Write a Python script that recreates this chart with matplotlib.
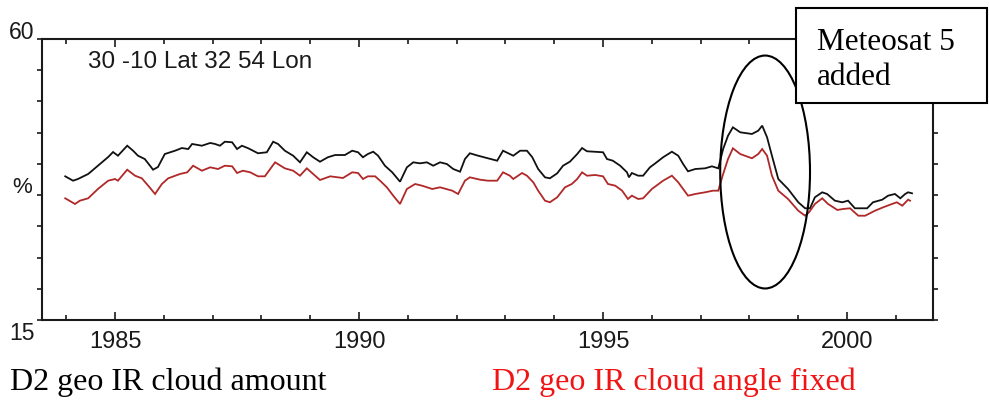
import matplotlib
matplotlib.use("Agg")
import matplotlib.pyplot as plt
from matplotlib.patches import Ellipse, Rectangle
from matplotlib.ticker import MultipleLocator, FixedLocator

# D2 geostationary IR cloud amount (%), 30S-10N / 32E-54E box
black_years = [1983.98, 1984.14, 1984.24, 1984.45, 1984.65, 1984.86, 1984.96, 1985.06,
               1985.25, 1985.37, 1985.47, 1985.61, 1985.78, 1985.88, 1986.02, 1986.23,
               1986.37, 1986.50, 1986.58, 1986.78, 1986.95, 1987.05, 1987.15, 1987.25,
               1987.40, 1987.50, 1987.60, 1987.73, 1987.93, 1988.11, 1988.24, 1988.34,
               1988.48, 1988.65, 1988.79, 1988.93, 1989.06, 1989.20, 1989.36, 1989.51,
               1989.71, 1989.86, 1989.98, 1990.08, 1990.18, 1990.29, 1990.39, 1990.53,
               1990.68, 1990.84, 1990.98, 1991.11, 1991.25, 1991.39, 1991.52, 1991.66,
               1991.80, 1991.93, 1992.07, 1992.17, 1992.27, 1992.44, 1992.64, 1992.83,
               1992.95, 1993.09, 1993.16, 1993.30, 1993.44, 1993.55, 1993.67, 1993.81,
               1993.91, 1994.06, 1994.18, 1994.32, 1994.47, 1994.57, 1994.67, 1994.80,
               1995.00, 1995.08, 1995.20, 1995.35, 1995.49, 1995.53, 1995.59, 1995.72,
               1995.82, 1995.96, 1996.07, 1996.23, 1996.41, 1996.54, 1996.64, 1996.74,
               1996.89, 1997.09, 1997.23, 1997.36, 1997.46, 1997.56, 1997.66, 1997.81,
               1998.05, 1998.18, 1998.26, 1998.36, 1998.46, 1998.59, 1998.79, 1999.00,
               1999.14, 1999.24, 1999.34, 1999.49, 1999.59, 1999.75, 1999.90, 2000.02,
               2000.16, 2000.41, 2000.53, 2000.72, 2000.84, 2000.98, 2001.09, 2001.19,
               2001.25, 2001.33]
black_vals = [38.01, 37.31, 37.58, 38.38, 39.71, 41.10, 41.90, 41.31,
              42.91, 42.11, 41.31, 40.78, 39.07, 39.50, 41.58, 42.11,
              42.54, 42.38, 43.19, 42.91, 43.35, 43.19, 42.91, 43.55,
              43.46, 42.38, 42.91, 42.50, 41.70, 41.86, 43.55, 43.19,
              42.11, 41.31, 40.25, 41.86, 41.06, 40.35, 41.06, 41.42,
              41.42, 42.11, 41.86, 41.06, 41.58, 41.95, 41.31, 39.71,
              38.65, 37.15, 39.45, 40.25, 40.09, 40.25, 39.71, 40.25,
              39.98, 39.18, 38.75, 40.78, 41.70, 41.31, 40.90, 40.51,
              42.11, 41.58, 41.31, 42.11, 42.11, 41.06, 39.18, 37.85,
              37.69, 38.49, 39.71, 40.35, 41.58, 42.54, 42.02, 41.95,
              41.86, 40.78, 40.51, 39.71, 38.65, 37.85, 38.54, 38.11,
              38.11, 39.45, 40.09, 41.06, 41.95, 41.31, 39.98, 38.81,
              39.18, 39.29, 39.61, 39.29, 42.38, 44.51, 45.86, 45.06,
              44.79, 45.32, 46.12, 44.26, 41.31, 37.58, 35.98, 33.85,
              32.89, 32.89, 34.65, 35.45, 35.18, 34.11, 33.85, 34.11,
              32.89, 32.89, 33.85, 34.27, 34.91, 35.18, 34.49, 35.18,
              35.45, 35.29]

# Same region with the satellite view angle held fixed
red_years = [1983.98, 1984.18, 1984.28, 1984.45, 1984.65, 1984.86, 1985.00, 1985.06,
             1985.25, 1985.41, 1985.55, 1985.68, 1985.82, 1985.96, 1986.09, 1986.33,
             1986.48, 1986.60, 1986.78, 1986.95, 1987.11, 1987.25, 1987.40, 1987.50,
             1987.62, 1987.77, 1987.93, 1988.07, 1988.28, 1988.48, 1988.65, 1988.79,
             1988.93, 1989.06, 1989.20, 1989.41, 1989.67, 1989.86, 1989.98, 1990.08,
             1990.18, 1990.33, 1990.43, 1990.57, 1990.70, 1990.84, 1990.98, 1991.15,
             1991.29, 1991.50, 1991.66, 1991.91, 1992.03, 1992.17, 1992.27, 1992.48,
             1992.64, 1992.83, 1992.95, 1993.09, 1993.16, 1993.34, 1993.44, 1993.57,
             1993.67, 1993.81, 1993.91, 1994.06, 1994.22, 1994.36, 1994.47, 1994.57,
             1994.67, 1994.84, 1995.00, 1995.10, 1995.25, 1995.39, 1995.51, 1995.59,
             1995.72, 1995.82, 1996.00, 1996.23, 1996.41, 1996.54, 1996.64, 1996.74,
             1996.89, 1997.09, 1997.25, 1997.36, 1997.46, 1997.56, 1997.66, 1997.81,
             1998.05, 1998.18, 1998.26, 1998.36, 1998.46, 1998.59, 1998.79, 1999.00,
             1999.14, 1999.22, 1999.34, 1999.49, 1999.61, 1999.80, 1999.92, 2000.06,
             2000.23, 2000.37, 2000.57, 2000.74, 2000.92, 2001.02, 2001.13, 2001.25,
             2001.29]
red_vals = [34.49, 33.58, 34.11, 34.49, 35.98, 37.31, 37.58, 37.31,
            39.07, 38.11, 37.69, 36.51, 35.18, 36.78, 37.69, 38.38,
            38.65, 39.71, 38.91, 39.45, 39.18, 39.71, 39.61, 38.54,
            38.91, 38.65, 38.01, 38.01, 40.25, 39.29, 38.91, 38.11,
            39.29, 38.38, 37.42, 38.01, 37.74, 38.65, 38.54, 37.58,
            38.01, 38.01, 37.31, 36.25, 34.91, 33.58, 35.98, 36.78,
            36.51, 35.98, 36.25, 35.71, 35.18, 37.31, 37.85, 37.47,
            37.31, 37.31, 38.65, 38.11, 37.58, 38.54, 38.11, 37.05,
            35.71, 34.11, 33.85, 34.65, 36.25, 36.78, 37.58, 38.65,
            38.11, 38.22, 38.01, 36.78, 36.51, 35.71, 34.38, 34.91,
            34.38, 34.49, 35.98, 37.31, 38.11, 37.05, 35.98, 34.91,
            35.18, 35.45, 35.71, 35.71, 38.38, 40.78, 42.50, 41.58,
            40.90, 41.58, 42.38, 41.31, 38.11, 35.71, 34.38, 32.50,
            31.70, 32.25, 33.58, 34.49, 33.58, 32.62, 32.78, 32.89,
            31.70, 31.70, 32.50, 33.05, 33.58, 33.85, 33.30, 34.27,
            34.11]

year_labels = [1985, 1990, 1995, 2000]
region_label = "30 -10 Lat 32 54 Lon"
note_lines = ["Meteosat 5", "added"]
series_names = ["D2 geo IR cloud amount", "D2 geo IR cloud angle fixed"]

W, H = 989, 402
fig = plt.figure(figsize=(W / 100, H / 100), dpi=100)
fig.patch.set_facecolor("white")


def fx(px):
    return px / W


def fy(py):
    return 1 - py / H


ax = fig.add_axes([fx(42), fy(321), fx(933) - fx(42), fy(40) - fy(321)])
ax.set_xlim(1983.504, 2001.76)
ax.set_ylim(15, 60)

ink = "#1a1a1a"
ax.plot(black_years, black_vals, color="#111111", lw=1.3, solid_joinstyle="miter")
ax.plot(red_years, red_vals, color="#b02828", lw=1.3, solid_joinstyle="miter")

for s in ax.spines.values():
    s.set_linewidth(1.5)
    s.set_color(ink)

ax.xaxis.set_major_locator(FixedLocator(year_labels))
ax.xaxis.set_minor_locator(MultipleLocator(1))
ax.set_xticklabels([str(y) for y in year_labels])
ax.tick_params(axis="x", which="major", direction="in", top=True, bottom=True,
               length=6, width=1.2, color=ink, labelsize=17, labelcolor=ink, pad=7)
ax.tick_params(axis="x", which="minor", direction="in", top=True, bottom=True,
               length=3.5, width=1.2, color=ink)
for lab in ax.get_xticklabels():
    lab.set_family("Liberation Sans")

ax.yaxis.set_major_locator(MultipleLocator(5))
ax.tick_params(axis="y", which="major", direction="out", left=True, right=True,
               labelleft=False, length=3.5, width=1.2, color=ink)

# y-axis end labels and unit
fig.text(fx(34), fy(39), "60", ha="right", va="baseline", fontsize=16.5,
         family="Liberation Sans", color=ink)
fig.text(fx(35), fy(340), "15", ha="right", va="baseline", fontsize=16.5,
         family="Liberation Sans", color=ink)
fig.text(fx(22), fy(188), "%", ha="center", va="center", fontsize=16,
         family="Liberation Sans", color=ink)

ax.text((88 - 42) / 891, (321 - 68) / 281, region_label, transform=ax.transAxes,
        ha="left", va="baseline", fontsize=17.5, family="Liberation Sans", color=ink)

# Ellipse around the Meteosat 5 step
ax.add_patch(Ellipse((1998.32, 38.7), 1.84, 37.3, fill=False, edgecolor="black",
                     lw=1.5, clip_on=False, zorder=5))

# Note box in the upper right corner
box = Rectangle((fx(796), fy(104)), fx(987) - fx(796), fy(9) - fy(104),
                transform=fig.transFigure, facecolor="white", edgecolor="black",
                lw=1.5, zorder=10)
fig.add_artist(box)
fig.text(fx(817), fy(50), note_lines[0], ha="left", va="baseline", fontsize=22.5,
         family="Liberation Serif", color="black", zorder=11)
fig.text(fx(817), fy(85), note_lines[1], ha="left", va="baseline", fontsize=22.5,
         family="Liberation Serif", color="black", zorder=11)

# Series captions below the axis
fig.text(fx(10), fy(390), series_names[0], ha="left", va="baseline", fontsize=23,
         family="Liberation Serif", color="black")
fig.text(fx(492), fy(390), series_names[1], ha="left", va="baseline", fontsize=23,
         family="Liberation Serif", color="#f01414")

fig.savefig("out.png", dpi=100, facecolor="white")
